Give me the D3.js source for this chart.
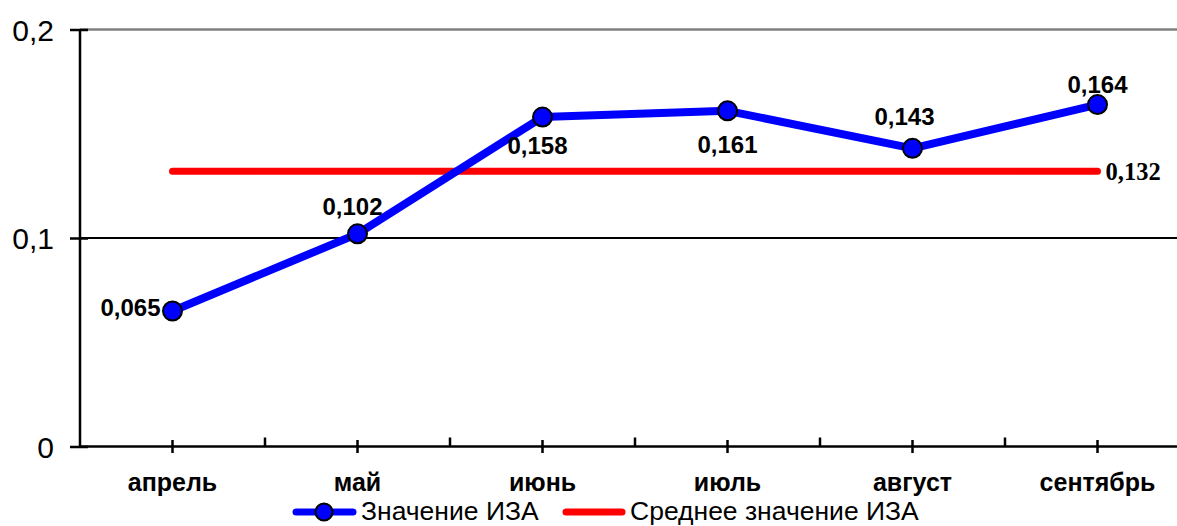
<!DOCTYPE html>
<html>
<head>
<meta charset="utf-8">
<script src="https://cdn.jsdelivr.net/npm/d3@7"></script>
<style>
  html, body { margin: 0; padding: 0; background: #fff; }
  svg { display: block; }
</style>
</head>
<body>
<svg id="chart" width="1177" height="526"></svg>
<script>
// ---- data ----
const categories = ["апрель", "май", "июнь", "июль", "август", "сентябрь"];
const izaValues = [0.065, 0.102, 0.158, 0.161, 0.143, 0.164];
const izaLabels = ["0,065", "0,102", "0,158", "0,161", "0,143", "0,164"];
const averageValue = 0.132;
const averageLabel = "0,132";
const yTicks = [0, 0.1, 0.2];
const yTickLabels = ["0", "0,1", "0,2"];
const seriesNames = ["Значение ИЗА", "Среднее значение ИЗА"];

// ---- layout (not data) ----
const W = 1177, H = 526;
const plotLeft = 80, plotTop = 29.5, plotBottom = 446.5;
const labelPlacement = ["left", "above", "below", "below", "above", "above"];
const labelNudge = [[-12, 5], [-5, -19], [-5, 37], [0, 42], [-8, -23], [0, -12]];

const svg = d3.select("#chart");

const x = d3.scaleBand().domain(categories).range([plotLeft, plotLeft + 6 * 185]).padding(0);
const y = d3.scaleLinear().domain([0, 0.2]).range([plotBottom, plotTop]);
const cx = d => x(d) + x.bandwidth() / 2;

// gridlines
svg.append("line").attr("x1", plotLeft).attr("x2", W).attr("y1", y(0.2)).attr("y2", y(0.2))
  .attr("stroke", "#808080").attr("stroke-width", 2.5);
svg.append("line").attr("x1", plotLeft).attr("x2", W).attr("y1", y(0.1)).attr("y2", y(0.1))
  .attr("stroke", "#000").attr("stroke-width", 2);

// y axis
const yAxis = d3.axisLeft(y).tickValues(yTicks).tickSize(0).tickFormat((d, i) => yTickLabels[i]);
const gy = svg.append("g").attr("transform", `translate(${plotLeft},0)`).call(yAxis);
gy.select(".domain").remove();
gy.selectAll("text").attr("x", -26).attr("dy", "0.35em")
  .style("font-family", "'Liberation Sans', Arial, sans-serif").style("font-size", "30px").attr("fill", "#000");
gy.selectAll(".tick").append("line").attr("x1", -10).attr("x2", 8).attr("stroke", "#000").attr("stroke-width", 2.5);
svg.append("line").attr("x1", plotLeft).attr("x2", plotLeft).attr("y1", y(0.2)).attr("y2", y(0))
  .attr("stroke", "#000").attr("stroke-width", 2.5);

// x axis
svg.append("line").attr("x1", plotLeft).attr("x2", W).attr("y1", y(0)).attr("y2", y(0))
  .attr("stroke", "#000").attr("stroke-width", 2.5);
const xAxis = d3.axisBottom(x).tickSize(0).tickPadding(0);
const gx = svg.append("g").attr("transform", `translate(0,${plotBottom})`).call(xAxis);
gx.select(".domain").remove();
gx.selectAll(".tick text").attr("y", 0).attr("dy", 0).attr("transform", "translate(0,44)")
  .style("font-family", "'Liberation Sans', Arial, sans-serif").style("font-size", "25px")
  .style("font-weight", "bold").attr("fill", "#000");
gx.selectAll(".tick").append("line").attr("y1", -6.5).attr("y2", 6.5).attr("stroke", "#000").attr("stroke-width", 2.5);
// boundary ticks
svg.selectAll(".btick").data(categories.slice(1)).enter().append("line")
  .attr("x1", d => x(d)).attr("x2", d => x(d)).attr("y1", plotBottom - 9).attr("y2", plotBottom)
  .attr("stroke", "#000").attr("stroke-width", 2.5);

// average line
svg.append("line")
  .attr("x1", cx(categories[0])).attr("x2", cx(categories[categories.length - 1]))
  .attr("y1", y(averageValue)).attr("y2", y(averageValue))
  .attr("stroke", "#ff0000").attr("stroke-width", 7).attr("stroke-linecap", "round");
svg.append("text")
  .attr("x", cx(categories[categories.length - 1]) + 8).attr("y", y(averageValue) + 9)
  .text(averageLabel)
  .style("font-family", "'Liberation Serif', 'Times New Roman', serif").style("font-size", "24.5px")
  .style("font-weight", "bold").attr("fill", "#000");

// IZA line
const line = d3.line().x((d, i) => cx(categories[i])).y(d => y(d));
svg.append("path").datum(izaValues).attr("d", line)
  .attr("fill", "none").attr("stroke", "#0000ff").attr("stroke-width", 8).attr("stroke-linejoin", "round");
svg.selectAll(".pt").data(izaValues).enter().append("circle")
  .attr("cx", (d, i) => cx(categories[i])).attr("cy", d => y(d)).attr("r", 9.5)
  .attr("fill", "#0000ff").attr("stroke", "#000").attr("stroke-width", 2);

// data labels
svg.selectAll(".lbl").data(izaValues).enter().append("text")
  .attr("x", (d, i) => cx(categories[i]) + labelNudge[i][0])
  .attr("y", (d, i) => y(d) + labelNudge[i][1])
  .attr("text-anchor", (d, i) => labelPlacement[i] === "left" ? "end" : "middle")
  .text((d, i) => izaLabels[i])
  .style("font-family", "'Liberation Sans', Arial, sans-serif").style("font-size", "24px")
  .style("font-weight", "bold").attr("fill", "#000");

// legend
const lg = svg.append("g");
const ly = 512;
lg.append("line").attr("x1", 296).attr("x2", 353).attr("y1", ly).attr("y2", ly)
  .attr("stroke", "#0000ff").attr("stroke-width", 7).attr("stroke-linecap", "round");
lg.append("circle").attr("cx", 324).attr("cy", ly).attr("r", 8.5)
  .attr("fill", "#0000ff").attr("stroke", "#000").attr("stroke-width", 2);
lg.append("text").attr("x", 361).attr("y", 520).text(seriesNames[0])
  .style("font-family", "'Liberation Sans', Arial, sans-serif").style("font-size", "26.5px").attr("fill", "#000");
lg.append("line").attr("x1", 566).attr("x2", 622).attr("y1", ly).attr("y2", ly)
  .attr("stroke", "#ff0000").attr("stroke-width", 7).attr("stroke-linecap", "round");
lg.append("text").attr("x", 630).attr("y", 520).text(seriesNames[1])
  .style("font-family", "'Liberation Sans', Arial, sans-serif").style("font-size", "26.5px").attr("fill", "#000");
</script>
</body>
</html>
